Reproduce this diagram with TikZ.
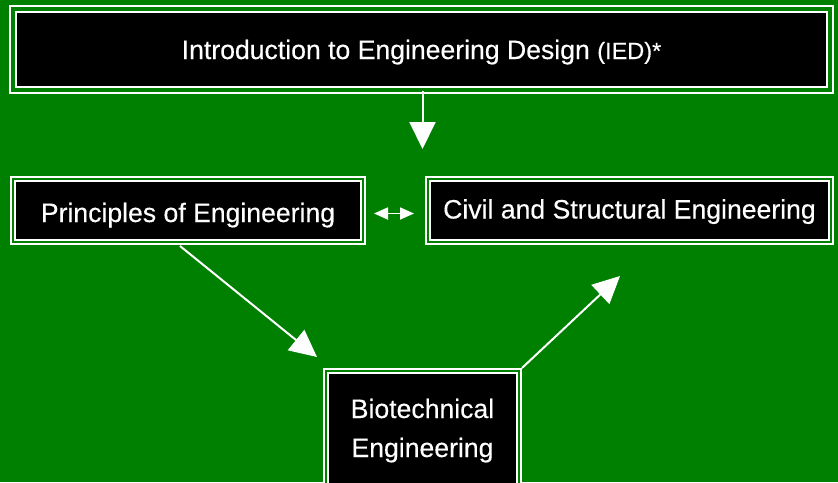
\documentclass[tikz,border=0pt]{standalone}
\usepackage{fontspec}
\setmainfont{Liberation Sans}[FakeBold=0.3]
\usetikzlibrary{arrows.meta,calc}
\definecolor{bg}{RGB}{0,128,0}
\tikzset{
  box/.style={draw=white, double=bg, fill=black, text=white, line width=2pt,
    double distance=2pt, inner sep=0pt, align=center,
    font=\fontsize{26.6}{39}\selectfont},
  bigbox/.style={box, line width=2pt, double distance=4pt},
  conn/.style={draw=white, line width=2pt, -{Triangle[width=26pt,length=27pt]}},
  twoway/.style={draw=white, line width=1.8pt, {Triangle[width=12pt,length=14pt]}-{Triangle[width=12pt,length=14pt]}}
}
\begin{document}
\begin{tikzpicture}[x=1pt,y=-1pt]
  \fill[bg] (0,0) rectangle (838,482);
  \useasboundingbox (0,0) rectangle (838,482);
  \node[bigbox, minimum width=817pt, minimum height=81pt] (ied) at (421.5,49.5)
    {\raisebox{-9.5pt}[0pt][0pt]{Introduction to Engineering Design {\fontsize{23.5}{28}\selectfont(IED)*}}};
  \node[box, minimum width=350pt, minimum height=63pt] (poe) at (188,210.5)
    {\raisebox{-11.5pt}[0pt][0pt]{Principles of Engineering}};
  \node[box, minimum width=403pt, minimum height=63pt] (cse) at (629.5,210.5)
    {\raisebox{-8pt}[0pt][0pt]{Civil and Structural Engineering}};
  \node[box, minimum width=193pt, minimum height=121pt] (bio) at (422.5,431.5)
    {\raisebox{13.5pt}[0pt][0pt]{\begin{tabular}[t]{@{}c@{}}Biotechnical\\Engineering\end{tabular}}};
  \coordinate (downtip) at (422.5,149);
  \coordinate (poetip) at (317,357);
  \coordinate (biotip) at (620,276);
  \draw[conn] (ied.south -| downtip) -- (downtip);
  \draw[conn] ([xshift=-8pt,yshift=-3pt]poe.south) -- (poetip);
  \draw[conn] ([xshift=2pt,yshift=2pt]bio.north east) -- (biotip);
  \draw[twoway] ($(poe.east)+(10,3)$) -- ($(cse.west)+(-13,3)$);
\end{tikzpicture}
\end{document}
